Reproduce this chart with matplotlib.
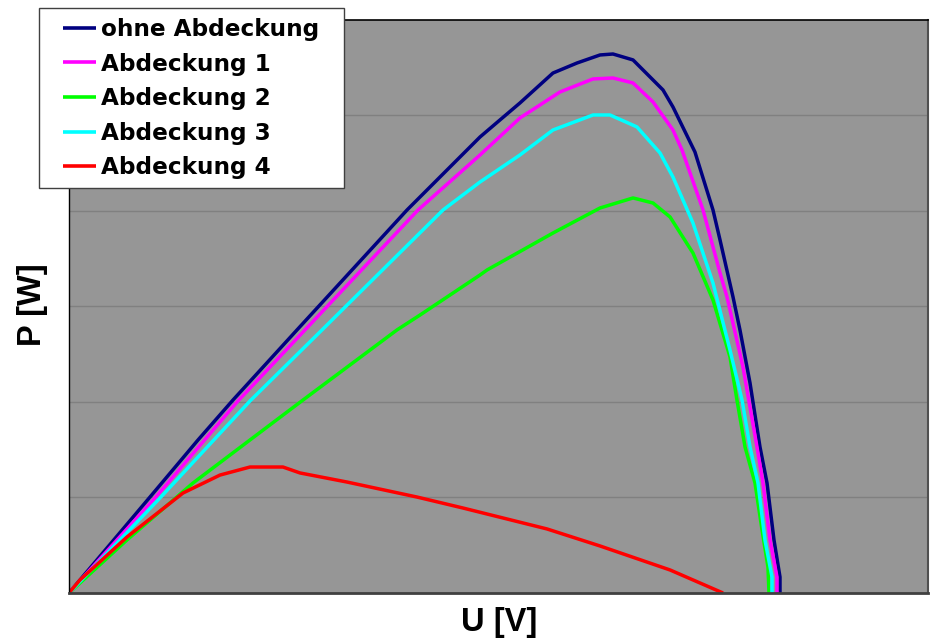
import matplotlib
matplotlib.use("Agg")
import matplotlib.pyplot as plt
from matplotlib.patches import Rectangle

# Data (arbitrary units)
u_ohne = [0, 9.43, 15.02, 19.09, 26.54, 39.35, 47.85, 50.17, 52.50, 56.34, 59.14, 61.82, 63.33, 65.66,
          69.15, 70.31, 72.87, 74.97, 75.79, 77.30, 78.11, 79.28, 80.44, 81.26, 82.07, 82.77, 82.77]
p_ohne = [0, 1.004, 1.601, 2.019, 2.752, 4.007, 4.771, 4.949, 5.127, 5.440, 5.545, 5.629, 5.639, 5.577,
          5.263, 5.085, 4.614, 4.007, 3.693, 3.097, 2.752, 2.197, 1.528, 1.151, 0.555, 0.167, 0]

u_abd1 = [0, 10.01, 19.67, 27.47, 40.63, 47.85, 52.50, 57.16, 61.00, 63.33, 65.66, 67.99, 70.31, 71.36,
          73.81, 75.79, 76.60, 78.46, 80.09, 80.79, 81.61, 82.42, 82.42]
p_abd1 = [0, 0.994, 2.009, 2.752, 4.007, 4.583, 4.970, 5.242, 5.378, 5.388, 5.336, 5.137, 4.844, 4.635,
          4.007, 3.348, 3.097, 2.365, 1.528, 1.151, 0.555, 0.167, 0]

u_abd2 = [0, 6.75, 14.44, 21.07, 27.24, 38.18, 40.86, 47.85, 48.66, 56.34, 61.82, 65.66, 67.99, 69.97,
          72.64, 74.97, 76.95, 77.76, 78.70, 79.86, 80.68, 81.37, 81.49]
p_abd2 = [0, 0.555, 1.151, 1.601, 2.019, 2.752, 2.908, 3.327, 3.379, 3.766, 4.028, 4.133, 4.080, 3.934,
          3.557, 3.065, 2.469, 2.019, 1.528, 1.151, 0.659, 0.272, 0]

u_abd3 = [0, 10.59, 21.07, 29.45, 43.54, 47.85, 52.50, 56.34, 61.00, 62.98, 66.12, 68.80, 70.31, 72.64,
          74.97, 76.95, 78.35, 79.28, 80.21, 81.02, 81.84, 81.84]
p_abd3 = [0, 0.994, 2.009, 2.752, 4.007, 4.300, 4.583, 4.844, 5.001, 5.001, 4.876, 4.604, 4.352, 3.871,
          3.243, 2.542, 2.019, 1.528, 1.151, 0.555, 0.167, 0]

u_abd4 = [0, 1.28, 6.75, 13.27, 17.58, 21.07, 24.91, 26.89, 32.36, 40.51, 45.87, 55.65, 61.82, 69.97, 76.14]
p_abd4 = [0, 0.136, 0.586, 1.046, 1.234, 1.318, 1.318, 1.256, 1.161, 1.004, 0.889, 0.670, 0.492, 0.241, 0]

labels = ["ohne Abdeckung", "Abdeckung 1", "Abdeckung 2", "Abdeckung 3", "Abdeckung 4"]
colors = ["#000080", "#FF00FF", "#00FF00", "#00FFFF", "#FF0000"]
series = [(u_ohne, p_ohne), (u_abd1, p_abd1), (u_abd2, p_abd2), (u_abd3, p_abd3), (u_abd4, p_abd4)]

plt.rcParams['font.family'] = ['Liberation Sans', 'DejaVu Sans']

W, H = 931, 644
fig = plt.figure(figsize=(W / 100, H / 100), dpi=100)
ax = fig.add_axes([69 / W, (H - 593) / H, (928 - 69) / W, (593 - 19.5) / H])
ax.set_facecolor("#969696")

for (u, p), c, lab in zip(series, colors, labels):
    ax.plot(u, p, color=c, lw=2.5, label=lab, solid_joinstyle='round', solid_capstyle='butt')

ax.set_xlim(0, 100)
ax.set_ylim(0, 6)
ax.set_yticks([1, 2, 3, 4, 5])
ax.set_xticks([])
ax.yaxis.grid(True, color="#808080", lw=1)
ax.tick_params(axis='y', length=0, labelleft=False)
ax.set_axisbelow(True)

ax.spines['top'].set_color('black')
ax.spines['top'].set_linewidth(1.2)
ax.spines['left'].set_color('black')
ax.spines['left'].set_linewidth(1.0)
ax.spines['right'].set_color('#505050')
ax.spines['right'].set_linewidth(1.5)
ax.spines['bottom'].set_color('#404040')
ax.spines['bottom'].set_linewidth(2.0)

fig.text(499 / W, 1 - 623 / H, "U [V]", ha='center', va='center', fontsize=23.5, fontweight='bold')
fig.text(32 / W, 1 - 305 / H, "P [W]", ha='center', va='center', fontsize=23.5, fontweight='bold',
         rotation=90)

# legend frame
frame = Rectangle((39 / W, 1 - 188 / H), 305 / W, 180 / H, transform=fig.transFigure,
                  facecolor='white', edgecolor='#404040', lw=1.0, zorder=4)
fig.add_artist(frame)

leg = fig.legend(loc='upper left', bbox_to_anchor=(63 / W, 1 - 18 / H), frameon=False,
                 prop={'family': 'DejaVu Sans', 'weight': 'bold', 'size': 16.7},
                 handlelength=1.43, handletextpad=0.22, labelspacing=0.5,
                 borderpad=0, borderaxespad=0)
leg.set_zorder(5)
for line in leg.get_lines():
    line.set_linewidth(2.6)

fig.savefig("out.png", dpi=100)
